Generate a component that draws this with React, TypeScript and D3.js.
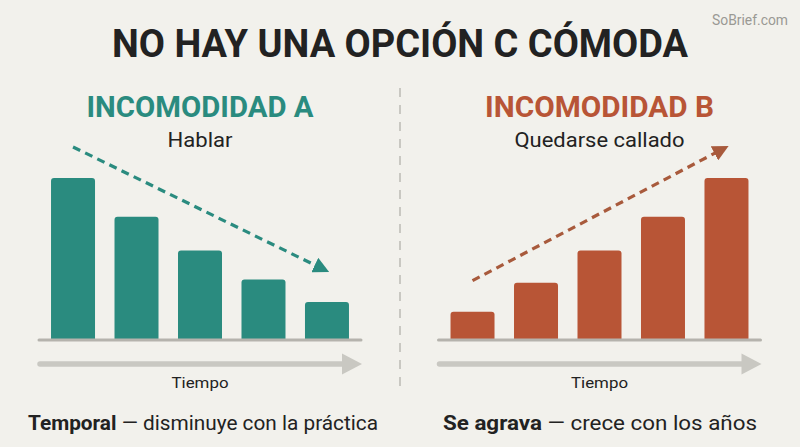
import React from "react";
import * as d3 from "d3";

const W = 800;
const H = 447;

const titleText = "NO HAY UNA OPCIÓN C CÓMODA";
const watermark = "SoBrief.com";
const periods = ["t1", "t2", "t3", "t4", "t5"];
const valuesA = [100, 76, 55, 37, 23];
const valuesB = [17, 35, 55, 76, 100];
const panelTitles = ["INCOMODIDAD A", "INCOMODIDAD B"];
const panelSubtitles = ["Hablar", "Quedarse callado"];
const axisLabel = "Tiempo";
const captionsBold = ["Temporal", "Se agrava"];
const captionsRest = [" — disminuye con la práctica", " — crece con los años"];

const BG = "#f2f1ec";
const TEAL = "#2a8b7f";
const RUST = "#b85536";
const RUST_LINE = "#a85a3c";
const GRAY = "#c9c8c2";
const FONT = "Roboto, 'Noto Sans', sans-serif";

type PanelProps = {
  x0: number;
  values: number[];
  color: string;
  lineColor: string;
  title: string;
  subtitle: string;
  titleLen: number;
  subLen: number;
  bold: string;
  rest: string;
  capLen: number;
  capX: number;
  id: string;
};

function Panel(p: PanelProps) {
  const x = d3
    .scaleBand<string>()
    .domain(periods)
    .range([p.x0 + 1.5, p.x0 + 318.5])
    .paddingInner(0.307)
    .paddingOuter(0.15);
  const y = d3.scaleLinear().domain([0, 100]).range([339, 178]);
  const cx = p.x0 + 160;
  const off = 31;
  const first = { x: (x(periods[0]) as number) + x.bandwidth() / 2, y: y(p.values[0]) - off };
  const last = {
    x: (x(periods[4]) as number) + x.bandwidth() / 2,
    y: y(p.values[4]) - off,
  };
  // shorten the line so the marker tip lands at `last`
  const dx = last.x - first.x;
  const dy = last.y - first.y;
  const len = Math.hypot(dx, dy);
  const shorten = 12;
  const end = { x: last.x - (dx / len) * shorten, y: last.y - (dy / len) * shorten };
  const line = d3.line<{ x: number; y: number }>().x((d) => d.x).y((d) => d.y);

  return (
    <g>
      <defs>
        <marker
          id={"arr" + p.id}
          viewBox="0 0 10 10"
          refX="1"
          refY="5"
          markerWidth="16"
          markerHeight="16"
          markerUnits="userSpaceOnUse"
          orient="auto"
        >
          <path d="M0,0 L10,5 L0,10 Z" fill={p.lineColor} />
        </marker>
      </defs>
      <text
        x={cx}
        y={117}
        textAnchor="middle"
        fontFamily={FONT}
        fontWeight={700}
        fontSize={30}
        fill={p.color}
        textLength={p.titleLen}
        lengthAdjust="spacingAndGlyphs"
      >
        {p.title}
      </text>
      <text
        x={cx}
        y={147}
        textAnchor="middle"
        fontFamily={FONT}
        fontSize={20.5}
        fill="#222"
        textLength={p.subLen}
        lengthAdjust="spacingAndGlyphs"
      >
        {p.subtitle}
      </text>
      {p.values.map((v, i) => (
        <path
          key={i}
          d={(() => {
            const bx = x(periods[i]) as number;
            const bw = x.bandwidth();
            const top = y(v);
            const bot = 339;
            const r = 3;
            return `M${bx},${bot} L${bx},${top + r} Q${bx},${top} ${bx + r},${top} L${bx + bw - r},${top} Q${bx + bw},${top} ${bx + bw},${top + r} L${bx + bw},${bot} Z`;
          })()}
          fill={p.color}
        />
      ))}
      <line
        x1={p.x0 - 1}
        x2={p.x0 + 321}
        y1={340}
        y2={340}
        stroke="#b5b3ad"
        strokeWidth={3}
        strokeLinecap="round"
      />
      <path
        d={line([first, end]) as string}
        fill="none"
        stroke={p.lineColor}
        strokeWidth={3.2}
        strokeDasharray="8,5.5"
        markerEnd={`url(#arr${p.id})`}
      />
      {/* time arrow */}
      <line
        x1={p.x0}
        x2={p.x0 + 304}
        y1={364}
        y2={364}
        stroke={GRAY}
        strokeWidth={5.5}
        strokeLinecap="round"
      />
      <path
        d={`M${p.x0 + 302},${353.5} L${p.x0 + 322},${364} L${p.x0 + 302},${374.5} Z`}
        fill={GRAY}
      />
      <text
        x={cx}
        y={388}
        textAnchor="middle"
        fontFamily={FONT}
        fontSize={15.5}
        fill="#222"
        textLength={57}
        lengthAdjust="spacingAndGlyphs"
      >
        {axisLabel}
      </text>
      <text
        x={p.capX}
        y={430}
        fontFamily={FONT}
        fontSize={21}
        fill="#222"
        textLength={p.capLen}
        lengthAdjust="spacingAndGlyphs"
      >
        <tspan fontWeight={700}>{p.bold}</tspan>
        <tspan>{p.rest}</tspan>
      </text>
    </g>
  );
}

export default function App() {
  return (
    <svg
      width={W}
      height={H}
      viewBox={`0 0 ${W} ${H}`}
      style={{ position: "absolute", left: 0, top: 0, background: BG }}
    >
      <rect width={W} height={H} fill={BG} />
      <text
        x={750}
        y={25}
        textAnchor="middle"
        fontFamily={FONT}
        fontSize={14}
        fill="#9a9994"
        textLength={76}
        lengthAdjust="spacingAndGlyphs"
      >
        {watermark}
      </text>
      <text
        x={400}
        y={57}
        textAnchor="middle"
        fontFamily={FONT}
        fontWeight={700}
        fontSize={39}
        fill="#222"
        textLength={576}
        lengthAdjust="spacingAndGlyphs"
      >
        {titleText}
      </text>
      <line
        x1={400}
        x2={400}
        y1={88}
        y2={393}
        stroke={GRAY}
        strokeWidth={2}
        strokeDasharray="9,8"
      />
      <Panel
        id="a"
        x0={40}
        values={valuesA}
        color={TEAL}
        lineColor={TEAL}
        title={panelTitles[0]}
        subtitle={panelSubtitles[0]}
        titleLen={227}
        subLen={65}
        bold={captionsBold[0]}
        rest={captionsRest[0]}
        capLen={350}
        capX={28}
      />
      <Panel
        id="b"
        x0={439.5}
        values={valuesB}
        color={RUST}
        lineColor={RUST_LINE}
        title={panelTitles[1]}
        subtitle={panelSubtitles[1]}
        titleLen={229}
        subLen={170}
        bold={captionsBold[1]}
        rest={captionsRest[1]}
        capLen={314}
        capX={443}
      />
    </svg>
  );
}
